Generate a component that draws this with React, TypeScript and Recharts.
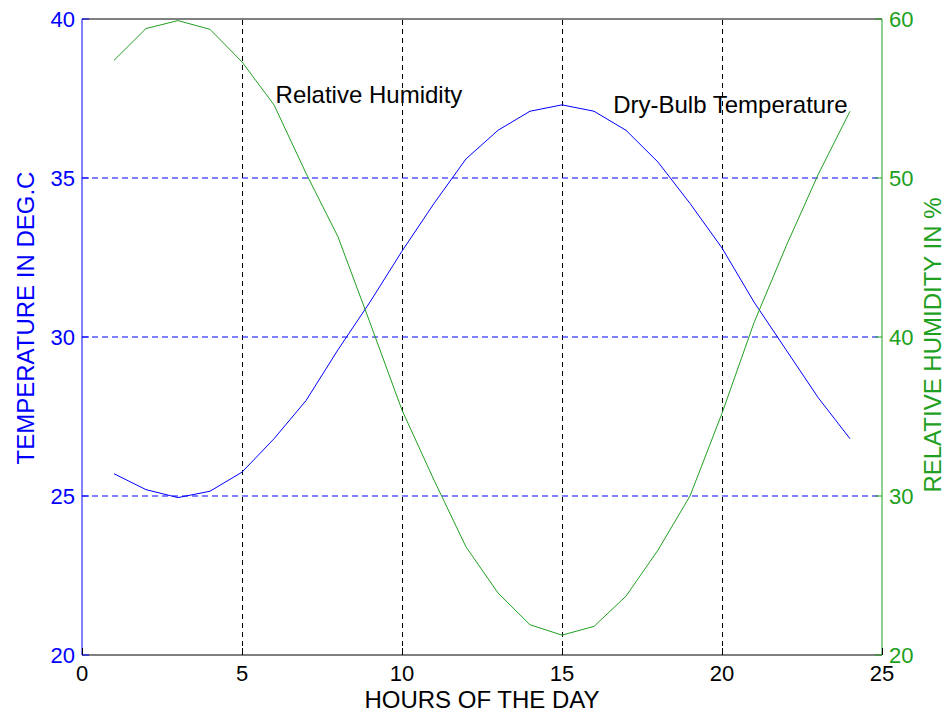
import {
  ComposedChart,
  Line,
  XAxis,
  YAxis,
  ReferenceLine,
  ReferenceDot,
} from "recharts"

// Hourly dry-bulb temperature and relative humidity over one day
const hours = [1, 2, 3, 4, 5, 6, 7, 8, 9, 10, 11, 12, 13, 14, 15, 16, 17, 18, 19, 20, 21, 22, 23, 24]
const temperature = [
  25.7, 25.2, 24.95, 25.15, 25.75, 26.8, 28.0, 29.6, 31.1, 32.7, 34.2, 35.6,
  36.5, 37.1, 37.3, 37.1, 36.5, 35.5, 34.2, 32.8, 31.1, 29.6, 28.1, 26.8,
]
const humidity = [
  57.4, 59.4, 59.9, 59.35, 57.3, 54.6, 50.3, 46.3, 40.9, 35.4, 31.0, 26.8,
  23.9, 21.9, 21.25, 21.8, 23.7, 26.6, 30.0, 35.2, 40.9, 45.7, 50.2, 54.2,
]

const hourTicks = [0, 5, 10, 15, 20, 25]
const tempTicks = [20, 25, 30, 35, 40]
const humTicks = [20, 30, 40, 50, 60]
const hourGrid = [5, 10, 15, 20]
const tempGrid = [25, 30, 35]

const BLUE = "#0000ff"
const GREEN = "#20a020"
const FONT = "'Liberation Sans', Arial, sans-serif"

const data = hours.map((h, i) => ({ hour: h, temp: temperature[i], rh: humidity[i] }))

const XTick = ({ x, y, payload }: any) => (
  <g>
    <line x1={x} y1={y} x2={x} y2={y - 7} stroke="#000" shapeRendering="crispEdges" />
    <text x={x} y={y + 26} textAnchor="middle" fontSize={22} fontFamily={FONT} fill="#000">
      {payload.value}
    </text>
  </g>
)

const TempTick = ({ x, y, payload }: any) => (
  <g>
    <line x1={x} y1={y} x2={x + 7} y2={y} stroke={BLUE} />
    <text x={x - 7} y={y + 8} textAnchor="end" fontSize={22} fontFamily={FONT} fill={BLUE}>
      {payload.value}
    </text>
  </g>
)

const HumTick = ({ x, y, payload }: any) => (
  <g>
    <line x1={x} y1={y} x2={x - 7} y2={y} stroke={GREEN} />
    <text x={x + 7} y={y + 8} textAnchor="start" fontSize={22} fontFamily={FONT} fill={GREEN}>
      {payload.value}
    </text>
  </g>
)

const Note = ({ text }: { text: string }) => (props: any) => {
  const { x, y } = props.viewBox
  return (
    <text x={x} y={y + 8} fontSize={24} fontFamily={FONT} fill="#000">
      {text}
    </text>
  )
}

export default function App() {
  return (
    <div style={{ position: "absolute", left: 0, top: 0, background: "#fff" }}>
      <ComposedChart
        width={945}
        height={717}
        data={data}
        margin={{ top: 19, right: 0, bottom: 0, left: 0 }}
      >
        {hourGrid.map((v) => (
          <ReferenceLine
            key={`hour-${v}`}
            yAxisId="t"
            x={v}
            stroke="#000"
            strokeDasharray="5 4"
            shapeRendering="crispEdges"
          />
        ))}
        {tempGrid.map((v) => (
          <ReferenceLine
            key={`temp-${v}`}
            yAxisId="t"
            y={v}
            stroke={BLUE}
            strokeDasharray="6 4"
          />
        ))}
        <ReferenceLine yAxisId="t" y={40} stroke="#000" />
        <XAxis
          dataKey="hour"
          type="number"
          domain={[0, 25]}
          ticks={hourTicks}
          height={62}
          axisLine={{ stroke: "#000" }}
          tickLine={false}
          tickSize={0}
          tickMargin={0}
          tick={<XTick />}
          label={{
            content: (p: any) => (
              <text
                x={p.viewBox.x + p.viewBox.width / 2}
                y={p.viewBox.y + 53}
                textAnchor="middle"
                fontSize={24}
                fontFamily={FONT}
                fill="#000"
              >
                HOURS OF THE DAY
              </text>
            ),
          }}
        />
        <YAxis
          yAxisId="t"
          domain={[20, 40]}
          ticks={tempTicks}
          width={82}
          axisLine={{ stroke: BLUE }}
          tickLine={false}
          tickSize={0}
          tickMargin={0}
          tick={<TempTick />}
        />
        <YAxis
          yAxisId="h"
          orientation="right"
          domain={[20, 60]}
          ticks={humTicks}
          width={63}
          axisLine={{ stroke: GREEN }}
          tickLine={false}
          tickSize={0}
          tickMargin={0}
          tick={<HumTick />}
        />
        <Line
          yAxisId="t"
          dataKey="temp"
          type="linear"
          stroke={BLUE}
          strokeWidth={1}
          dot={false}
          isAnimationActive={false}
        />
        <Line
          yAxisId="h"
          dataKey="rh"
          type="linear"
          stroke={GREEN}
          strokeWidth={1}
          dot={false}
          isAnimationActive={false}
        />
        <ReferenceDot
          yAxisId="t"
          x={6.05}
          y={37.6}
          r={0}
          stroke="none"
          fill="none"
          label={{ content: Note({ text: "Relative Humidity" }) }}
        />
        <ReferenceDot
          yAxisId="t"
          x={16.6}
          y={37.3}
          r={0}
          stroke="none"
          fill="none"
          label={{ content: Note({ text: "Dry-Bulb Temperature" }) }}
        />
        <text
          x={34}
          y={318}
          transform="rotate(-90 34 318)"
          textAnchor="middle"
          fontSize={24}
          fontFamily={FONT}
          fill={BLUE}
        >
          TEMPERATURE IN DEG.C
        </text>
        <text
          x={941}
          y={345}
          transform="rotate(-90 941 345)"
          textAnchor="middle"
          fontSize={24}
          fontFamily={FONT}
          fill={GREEN}
        >
          RELATIVE HUMIDITY IN %
        </text>
      </ComposedChart>
    </div>
  )
}
